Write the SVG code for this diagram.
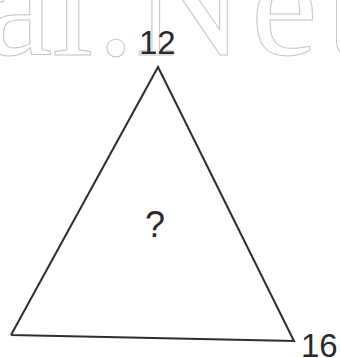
<svg xmlns="http://www.w3.org/2000/svg" width="340" height="358" viewBox="0 0 340 358">
<style>
.wm{font-family:"Liberation Serif","Times New Roman",serif;font-size:150px;fill:#ffffff;stroke:#c4c4c4;stroke-width:1}
.lbl{font-family:"Liberation Sans",Arial,sans-serif;fill:#2a2a2a}
.edge{fill:none;stroke:#2e2e2e;stroke-width:2;stroke-linejoin:miter}
</style>
<rect width="340" height="358" fill="#ffffff"/>
<g id="watermark">
<text class="wm" x="-14 52 97 135 251 326" y="55">al.Net</text>
</g>
<g id="connectors">
<polyline class="edge" points="11,335 158,67 294,341 11,335"/>
</g>
<g id="top-label"><text class="lbl" x="139" y="54" font-size="33">12</text></g>
<g id="center-label"><text class="lbl" x="145" y="237" font-size="36">?</text></g>
<g id="right-label"><text class="lbl" x="301" y="357" font-size="33">16</text></g>
</svg>
